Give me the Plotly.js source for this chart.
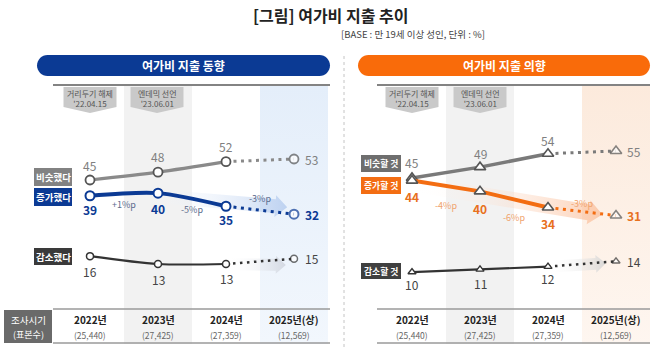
<!DOCTYPE html>
<html><head><meta charset="utf-8">
<script src="https://cdn.plot.ly/plotly-3.0.1.min.js"></script>
<style>html,body{margin:0;padding:0;background:#fff;}#chart{width:658px;height:351px;}</style>
</head><body><div id="chart"></div>
<script>
// ---------------- DATA ----------------
const years = ['2022년','2023년','2024년','2025년(상)'];
const sampleSizes = ['(25,440)','(27,425)','(27,359)','(12,569)'];
const trendSimilar  = [45,48,52,53];
const trendIncrease = [39,40,35,32];
const trendDecrease = [16,13,13,15];
const intentSimilar  = [45,49,54,55];
const intentIncrease = [44,40,34,31];
const intentDecrease = [10,11,12,14];
const trendChange  = ['+1%p','-5%p','-3%p'];
const intentChange = ['-4%p','-6%p','-3%p'];
const eventNames = ['거리두기 해제','엔데믹 선언'];
const eventDates = ["'22.04.15","'23.06.01"];
const trendLabels  = ['비슷했다','증가했다','감소했다'];
const intentLabels = ['비슷할 것','증가할 것','감소할 것'];
const panelTitles = ['여가비 지출 동향','여가비 지출 의향'];

// ---------------- GEOMETRY ----------------
const W=658, H=351;
const colStep=68, leftX0=90, rightX0=412;
const leftTop=53, leftTopPx=159, leftScale=2.625;
const rightTop=55, rightTopPx=151, rightScale=2.69;
const LX=i=>leftX0+colStep*i, RX=i=>rightX0+colStep*i;
const LY=v=>leftTopPx+(leftTop-v)*leftScale, RY=v=>rightTopPx+(rightTop-v)*rightScale;
const FONT='"Noto Sans CJK KR", "Noto Sans", sans-serif';

const C = {navy:'#0b3a94', orange:'#f36d12', gray:'#8a8a8a', dark:'#333333', rgray:'#7a7a7a'};

// ---------------- TRACES ----------------
const traces=[];
function bandTrace(x0,x1,y0,y1,c0,c1){
  traces.push({type:'scatter',mode:'none',xaxis:'x',yaxis:'y',hoverinfo:'skip',showlegend:false,
    x:[x0,x1,x1,x0,x0],y:[y0,y0,y1,y1,y0],fill:'toself',fillcolor:c1,
    fillgradient:{type:'vertical',colorscale:[[0,c0],[1,c1]]}});
}
bandTrace(LX(2.5),LX(3.5),86,344,'rgba(242,247,253,1)','rgba(228,238,250,1)');
bandTrace(RX(2.5),W-8,86,344,'rgba(254,246,240,1)','rgba(252,234,220,1)');

function arrowTrace(x1,y1,x2,y2,hw,hh,hl,col){
  const dx=x2-x1,dy=y2-y1,len=Math.hypot(dx,dy),ux=dx/len,uy=dy/len,nx=-uy,ny=ux;
  const bx=x2-ux*hl,by=y2-uy*hl;
  const p=[[x1+nx*hw,y1+ny*hw],[bx+nx*hw,by+ny*hw],[bx+nx*hh,by+ny*hh],[x2,y2],
           [bx-nx*hh,by-ny*hh],[bx-nx*hw,by-ny*hw],[x1-nx*hw,y1-ny*hw],[x1+nx*hw,y1+ny*hw]];
  traces.push({type:'scatter',mode:'none',xaxis:'x',yaxis:'y',hoverinfo:'skip',showlegend:false,
    x:p.map(a=>a[0]),y:p.map(a=>a[1]),fill:'toself',fillcolor:col,
    fillgradient:{type:'horizontal',colorscale:[[0,'rgba(255,255,255,0)'],[1,col]]}});
}
arrowTrace(LX(0.8),LY(trendIncrease[1])+2,LX(2.9),LY(trendIncrease[3])-7,7,11,12,'rgba(170,196,236,0.7)');
arrowTrace(LX(2.0),LY(trendDecrease[2]),LX(2.88),LY(trendDecrease[2])+1,6,9,10,'rgba(205,210,220,0.8)');
arrowTrace(RX(0),RY(intentIncrease[0])+3,RX(2.8),RY(intentIncrease[3])-1,8,12,14,'rgba(250,180,138,0.65)');
arrowTrace(RX(2),RY(intentDecrease[2]),RX(2.85),RY(intentDecrease[3])+2,6,9,10,'rgba(210,210,210,0.8)');

function series(xa,ya,vals,color,width,symbol,msize,mline,mcolor,dash,dwidth,shape){
  traces.push({type:'scatter',mode:'lines+markers',xaxis:xa,yaxis:ya,hoverinfo:'skip',showlegend:false,
    x:years.slice(2),y:vals.slice(2),line:{color:color,width:dwidth,dash:dash},
    marker:{symbol:symbol,size:[0,msize],color:'white',line:{color:mcolor,width:mline}}});
  traces.push({type:'scatter',mode:'lines+markers',xaxis:xa,yaxis:ya,hoverinfo:'skip',showlegend:false,
    x:years.slice(0,3),y:vals.slice(0,3),line:{color:color,width:width,shape:shape,smoothing:0.8},
    marker:{symbol:symbol,size:msize,color:'white',line:{color:mcolor,width:mline}}});
}
series('x2','y2',trendSimilar,C.gray,3.2,'circle',9,1.8,'#555','3px,4.5px',3,'spline');
series('x2','y2',trendIncrease,C.navy,4,'circle',9,2,C.navy,'3px,4.5px',3,'spline');
series('x2','y2',trendDecrease,C.dark,2.2,'circle',7,1.5,C.dark,'2.5px,4.5px',2.5,'spline');
series('x3','y3',intentSimilar,C.rgray,3.5,'triangle-up',10,1.6,'#555','3px,4.5px',3,'linear');
series('x3','y3',intentIncrease,C.orange,4,'triangle-up',10,1.6,'#555','3px,4.5px',3,'linear');
series('x3','y3',intentDecrease,C.dark,2.2,'triangle-up',7,1.4,C.dark,'2.5px,4.5px',2.5,'linear');

// ---------------- SHAPES ----------------
const shapes=[];
const rect=(x0,y0,x1,y1,fill,layer)=>shapes.push({type:'rect',xref:'x',yref:'y',x0,y0,x1,y1,fillcolor:fill,line:{width:0},layer:layer||'below'});
const hline=(x0,x1,y,col,w)=>shapes.push({type:'line',xref:'x',yref:'y',x0,x1,y0:y,y1:y,line:{color:col,width:w},layer:'above'});
rect(LX(0.5),86,LX(1.5),344,'#f2f2f2');
rect(RX(0.5),86,RX(1.5),344,'#f2f2f2');
function pill(x0,x1,y0,y1,fill){
  const r=(y1-y0)/2,yc=(y0+y1)/2;
  shapes.push({type:'path',xref:'x',yref:'y',fillcolor:fill,line:{width:0},layer:'below',
   path:`M${x0+r},${y0} H${x1-r} C${x1-r*0.45},${y0} ${x1},${y0+r*0.45} ${x1},${yc} C${x1},${y1-r*0.45} ${x1-r*0.45},${y1} ${x1-r},${y1} H${x0+r} C${x0+r*0.45},${y1} ${x0},${y1-r*0.45} ${x0},${yc} C${x0},${y0+r*0.45} ${x0+r*0.45},${y0} ${x0+r},${y0} Z`});
}
pill(37,330,55,76,'#0b3a94');
pill(358,650,55,76,'#f96b0a');
shapes.push({type:'line',xref:'x',yref:'y',x0:344,x1:344,y0:56,y1:350,line:{color:'#c4c4c4',width:1,dash:'dot'},layer:'below'});
hline(53,330,85,'#5a5a5a',1.5); hline(377,650,85,'#5a5a5a',1.5);
hline(53,330,309,'#9a9a9a',1.5); hline(377,650,309,'#9a9a9a',1.5);
hline(53,330,343,'#9a9a9a',1.5); hline(377,650,343,'#9a9a9a',1.5);
rect(4,310,52,343,'#6a6a6a');
function callout(cx){
  const x0=cx-26.5,x1=cx+26.5;
  shapes.push({type:'path',xref:'x',yref:'y',fillcolor:'#c9c9c9',line:{width:0},layer:'below',
    path:`M${x0},87 H${x1} V107 L${cx},113 L${x0},107 Z`});
}
[LX(0),LX(1)-1,RX(0),RX(1)].forEach(callout);
const boxes=[[34,72,168,186,'#828282'],[34,72,188,206,'#0b3a94'],[34,72,248,265,'#3a3a3a'],
             [361,401,155,172,'#6e6e6e'],[361,401,177,194,'#f36d12'],[361,401,263,279,'#404040']];
boxes.forEach(b=>rect(b[0],b[2],b[1],b[3],b[4]));

// ---------------- ANNOTATIONS ----------------
const ann=[];
const txt=(x,y,t,size,color,bold,extra)=>ann.push(Object.assign({xref:'x',yref:'y',x,y,text:bold?`<b>${t}</b>`:t,showarrow:false,
  font:{family:FONT,size,color},xanchor:'center',yanchor:'middle'},extra||{}));
txt(330,15,'[그림] 여가비 지출 추이',16,'#222',true);
txt(413,34,'[BASE : 만 19세 이상 성인, 단위 : %]',9.5,'#444',false);
txt(183.5,65.5,panelTitles[0],12,'#fff',true);
txt(504,65.5,panelTitles[1],12,'#fff',true);
[LX(0),LX(1)-1,RX(0),RX(1)].forEach((cx,k)=>{
  txt(cx,98,eventNames[k%2]+'<br>'+eventDates[k%2],8,'#555',false);
});
const bl=[...trendLabels,...intentLabels];
boxes.forEach((b,k)=>txt((b[0]+b[1])/2,(b[2]+b[3])/2,bl[k],k<3?9.5:8.8,'#fff',true));
txt(28,319.5,'조사시기',9.5,'#fff',false);
txt(28,334.5,'(표본수)',9,'#fff',false);
years.forEach((y,i)=>{
  txt(LX(i),319.5,y,10,'#222',true); txt(LX(i),334.5,sampleSizes[i],8.5,'#666',false);
  txt(RX(i),319.5,y,10,'#222',true); txt(RX(i),334.5,sampleSizes[i],8.5,'#666',false);
});
function vlabels(xa,ya,vals,color,bold,pos){
  vals.forEach((v,i)=>{
    const last=i===3;
    ann.push({xref:xa,yref:ya,x:years[i],y:v,text:bold?`<b>${v}</b>`:String(v),showarrow:false,
      font:{family:FONT,size:12,color},xanchor:last?'left':'center',yanchor:'middle',
      xshift:last?9:0,yshift:last?0:pos[i]});
  });
}
vlabels('x2','y2',trendSimilar,'#808080',false,[15,16,15]);
vlabels('x2','y2',trendIncrease,C.navy,true,[-14,-15,-13]);
vlabels('x2','y2',trendDecrease,'#444',false,[-15,-15,-14]);
vlabels('x3','y3',intentSimilar,'#808080',false,[15,14,13]);
vlabels('x3','y3',intentIncrease,'#e8701e',true,[-16,-17,-16]);
vlabels('x3','y3',intentDecrease,'#444',false,[-12,-14,-12]);
const lOff=[10,10,-12], rOff=[20,18,-8];
trendChange.forEach((t,i)=>txt(LX(i+0.5),LY((trendIncrease[i]+trendIncrease[i+1])/2)+lOff[i],t,9,'#5b6b8c',false));
intentChange.forEach((t,i)=>txt(RX(i+0.5),RY((intentIncrease[i]+intentIncrease[i+1])/2)+rOff[i],t,9,'#f0a36c',false));

// ---------------- LAYOUT ----------------
const ax={visible:false,showgrid:false,zeroline:false,fixedrange:true};
const layout={
  width:W,height:H,margin:{l:0,r:0,t:0,b:0},paper_bgcolor:'#fff',plot_bgcolor:'rgba(0,0,0,0)',
  showlegend:false,font:{family:FONT},
  xaxis:Object.assign({},ax,{range:[0,W],domain:[0,1]}),
  yaxis:Object.assign({},ax,{range:[H,0],domain:[0,1]}),
  xaxis2:Object.assign({},ax,{type:'category',categoryarray:years,overlaying:'x',anchor:'y2',
    range:[(0-leftX0)/colStep,(W-leftX0)/colStep]}),
  yaxis2:Object.assign({},ax,{overlaying:'y',anchor:'x2',
    range:[leftTop-(H-leftTopPx)/leftScale,leftTop+leftTopPx/leftScale]}),
  xaxis3:Object.assign({},ax,{type:'category',categoryarray:years,overlaying:'x',anchor:'y3',
    range:[(0-rightX0)/colStep,(W-rightX0)/colStep]}),
  yaxis3:Object.assign({},ax,{overlaying:'y',anchor:'x3',
    range:[rightTop-(H-rightTopPx)/rightScale,rightTop+rightTopPx/rightScale]}),
  shapes:shapes,annotations:ann
};
Plotly.newPlot('chart',traces,layout,{staticPlot:true,displayModeBar:false});
</script></body></html>
